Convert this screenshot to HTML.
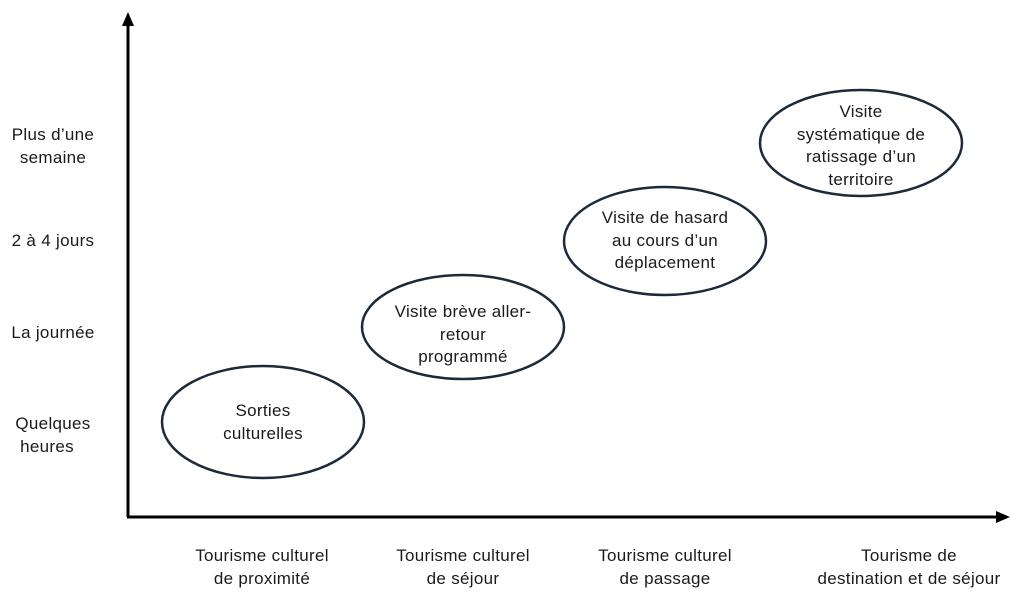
<!DOCTYPE html>
<html><head><meta charset="utf-8"><style>
html,body{margin:0;padding:0;background:#fff;}
svg{display:block;}
text{font-family:"Liberation Sans",sans-serif;font-size:17px;letter-spacing:0.3px;fill:#1a1a1a;}
</style></head><body>
<svg width="1024" height="595" viewBox="0 0 1024 595" xmlns="http://www.w3.org/2000/svg">
<line x1="128" y1="517" x2="128" y2="24" stroke="#000" stroke-width="3"/>
<polygon points="128,12 122,26 134,26" fill="#000"/>
<line x1="127" y1="517" x2="998" y2="517" stroke="#000" stroke-width="3"/>
<polygon points="1010,517 996,511 996,523" fill="#000"/>
<g fill="none" stroke="#1c2a3a" stroke-width="2.5">
<ellipse cx="263" cy="422" rx="101" ry="56"/>
<ellipse cx="463" cy="327" rx="101" ry="52"/>
<ellipse cx="665" cy="241" rx="101" ry="54"/>
<ellipse cx="861" cy="143" rx="101" ry="53"/>
</g>
<g text-anchor="middle">
<text x="53" y="140">Plus d’une</text>
<text x="53" y="163">semaine</text>
<text x="53" y="246">2 à 4 jours</text>
<text x="53" y="338">La journée</text>
<text x="53" y="429">Quelques</text>
<text x="47" y="452">heures</text>
<text x="263" y="416">Sorties</text>
<text x="263" y="439">culturelles</text>
<text x="463" y="317">Visite brève aller-</text>
<text x="463" y="340">retour</text>
<text x="463" y="362">programmé</text>
<text x="665" y="223">Visite de hasard</text>
<text x="665" y="246">au cours d’un</text>
<text x="665" y="268">déplacement</text>
<text x="861" y="117">Visite</text>
<text x="861" y="140">systématique de</text>
<text x="861" y="162">ratissage d’un</text>
<text x="861" y="185">territoire</text>
<text x="262" y="561">Tourisme culturel</text>
<text x="262" y="584">de proximité</text>
<text x="463" y="561">Tourisme culturel</text>
<text x="463" y="584">de séjour</text>
<text x="665" y="561">Tourisme culturel</text>
<text x="665" y="584">de passage</text>
<text x="909" y="561">Tourisme de</text>
<text x="909" y="584">destination et de séjour</text>
</g>
</svg>
</body></html>
